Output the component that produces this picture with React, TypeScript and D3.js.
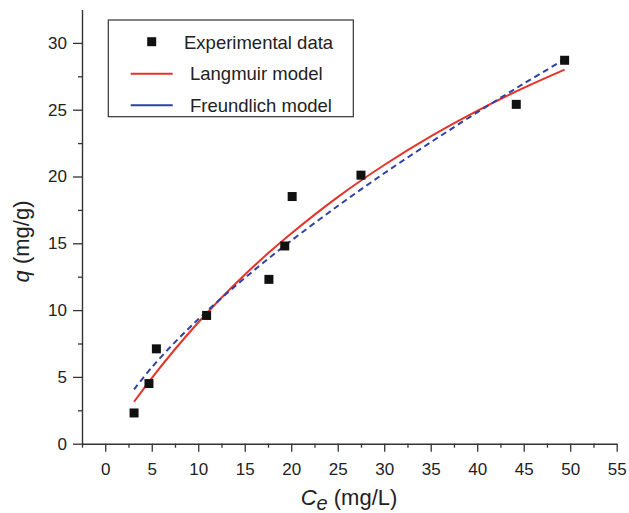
import React, { useEffect, useRef } from 'react';
import * as d3 from 'd3';

// experimental points
const ceExp = [3.1, 4.7, 5.5, 10.9, 17.6, 19.3, 20.1, 27.5, 44.2, 49.4];
const qExp = [2.3, 4.5, 7.1, 9.6, 12.3, 14.8, 18.5, 20.1, 25.4, 28.7];

// fitted curves
const ceFit = [3.1, 5, 7.5, 10, 12.5, 15, 17.5, 20, 25, 30, 35, 40, 45, 49.4];
const qLangmuir = [3.14, 4.91, 7.07, 9.07, 10.92, 12.64, 14.25, 15.74, 18.46, 20.86, 23.0, 24.91, 26.63, 28.0];
const qFreundlich = [4.07, 5.71, 7.6, 9.31, 10.9, 12.4, 13.83, 15.2, 17.79, 20.24, 22.56, 24.8, 26.95, 28.77];

const xMajor = [0, 5, 10, 15, 20, 25, 30, 35, 40, 45, 50, 55];
const xMinor = [-2.5, 2.5, 7.5, 12.5, 17.5, 22.5, 27.5, 32.5, 37.5, 42.5, 47.5, 52.5];
const yMajor = [0, 5, 10, 15, 20, 25, 30];
const yMinor = [2.5, 7.5, 12.5, 17.5, 22.5, 27.5];

const legendLabels = ['Experimental data', 'Langmuir model', 'Freundlich model'];

const W = 629;
const H = 513;
const FONT = "'Liberation Sans', Arial, Helvetica, sans-serif";
const RED = '#e5332a';
const BLUE = '#2e41a6';
const AXIS = '#333';

const App = () => {
  const ref = useRef(null);

  const x = d3.scaleLinear().domain([-2.5, 55]).range([82, 616.7]);
  const y = d3.scaleLinear().domain([0, 32.5]).range([443.7, 9.5]);

  useEffect(() => {
    const svg = d3.select(ref.current);
    svg.selectAll('*').remove();

    // x axis
    const gx = svg.append('g').attr('transform', `translate(0,${y(0)})`);
    gx.call(
      d3.axisBottom(x).tickValues(xMajor).tickSize(8).tickSizeOuter(0).tickFormat((d) => String(d))
    );
    gx.append('g').call(
      d3.axisBottom(x).tickValues(xMinor).tickSize(4).tickSizeOuter(0).tickFormat(() => '')
    );
    gx.selectAll('g > g > .domain').remove();

    // y axis
    const gy = svg.append('g').attr('transform', `translate(${x(-2.5)},0)`);
    gy.call(
      d3.axisLeft(y).tickValues(yMajor).tickSize(9).tickPadding(6).tickSizeOuter(0).tickFormat((d) => String(d))
    );
    gy.append('g').call(
      d3.axisLeft(y).tickValues(yMinor).tickSize(4).tickSizeOuter(0).tickFormat(() => '')
    );
    gy.selectAll('g > g > .domain').remove();

    svg.selectAll('.domain').attr('stroke', AXIS).attr('stroke-width', 1.4);
    svg.selectAll('.tick line').attr('stroke', AXIS).attr('stroke-width', 1.3);
    svg
      .selectAll('.tick text')
      .attr('font-family', FONT)
      .attr('font-size', 17)
      .attr('fill', '#222');
    gx.selectAll('.tick text').attr('y', 19.5);

    // curves
    const pts = (ys) => ceFit.map((c, i) => [c, ys[i]]);
    const line = d3
      .line()
      .x((d) => x(d[0]))
      .y((d) => y(d[1]))
      .curve(d3.curveCatmullRom);

    svg
      .append('path')
      .attr('d', line(pts(qLangmuir)))
      .attr('fill', 'none')
      .attr('stroke', RED)
      .attr('stroke-width', 2);

    svg
      .append('path')
      .attr('d', line(pts(qFreundlich)))
      .attr('fill', 'none')
      .attr('stroke', BLUE)
      .attr('stroke-width', 2)
      .attr('stroke-dasharray', '6,4');

    // experimental points
    svg
      .selectAll('rect.pt')
      .data(ceExp.map((c, i) => [c, qExp[i]]))
      .enter()
      .append('rect')
      .attr('class', 'pt')
      .attr('x', (d) => x(d[0]) - 4.5)
      .attr('y', (d) => y(d[1]) - 4.5)
      .attr('width', 9)
      .attr('height', 9)
      .attr('fill', '#111');

    // legend
    const lg = svg.append('g');
    lg.append('rect')
      .attr('x', 108.3)
      .attr('y', 20)
      .attr('width', 245)
      .attr('height', 96.7)
      .attr('fill', 'white')
      .attr('stroke', AXIS)
      .attr('stroke-width', 1.2);
    lg.append('rect')
      .attr('x', 147.2)
      .attr('y', 37.2)
      .attr('width', 9)
      .attr('height', 9)
      .attr('fill', '#111');
    lg.append('line')
      .attr('x1', 130.7)
      .attr('x2', 172.7)
      .attr('y1', 73.7)
      .attr('y2', 73.7)
      .attr('stroke', RED)
      .attr('stroke-width', 2);
    lg.append('line')
      .attr('x1', 130.7)
      .attr('x2', 172.7)
      .attr('y1', 105.2)
      .attr('y2', 105.2)
      .attr('stroke', BLUE)
      .attr('stroke-width', 2);
    const lx = [184, 190, 190];
    const ly = [48.5, 80.2, 111.7];
    lg.selectAll('text')
      .data(legendLabels)
      .enter()
      .append('text')
      .attr('x', (d, i) => lx[i])
      .attr('y', (d, i) => ly[i])
      .attr('font-family', FONT)
      .attr('font-size', 18.5)
      .attr('fill', '#222')
      .text((d) => d);

    // axis titles
    const xt = svg
      .append('text')
      .attr('x', 349)
      .attr('y', 505)
      .attr('text-anchor', 'middle')
      .attr('font-family', FONT)
      .attr('font-size', 22)
      .attr('fill', '#222');
    xt.append('tspan').attr('font-style', 'italic').text('C');
    xt.append('tspan').attr('font-style', 'italic').attr('font-size', 20).attr('dy', 5).text('e');
    xt.append('tspan').attr('dy', -5).text(' (mg/L)');

    const yt = svg
      .append('text')
      .attr('transform', 'translate(29,241.5) rotate(-90)')
      .attr('text-anchor', 'middle')
      .attr('font-family', FONT)
      .attr('font-size', 22)
      .attr('fill', '#222');
    yt.append('tspan').attr('font-style', 'italic').text('q');
    yt.append('tspan').text(' (mg/g)');
  }, []);

  return (
    <div style={{ position: 'absolute', left: 0, top: 0 }}>
      <svg ref={ref} width={W} height={H} style={{ display: 'block', background: 'white' }} />
    </div>
  );
};

export default App;
